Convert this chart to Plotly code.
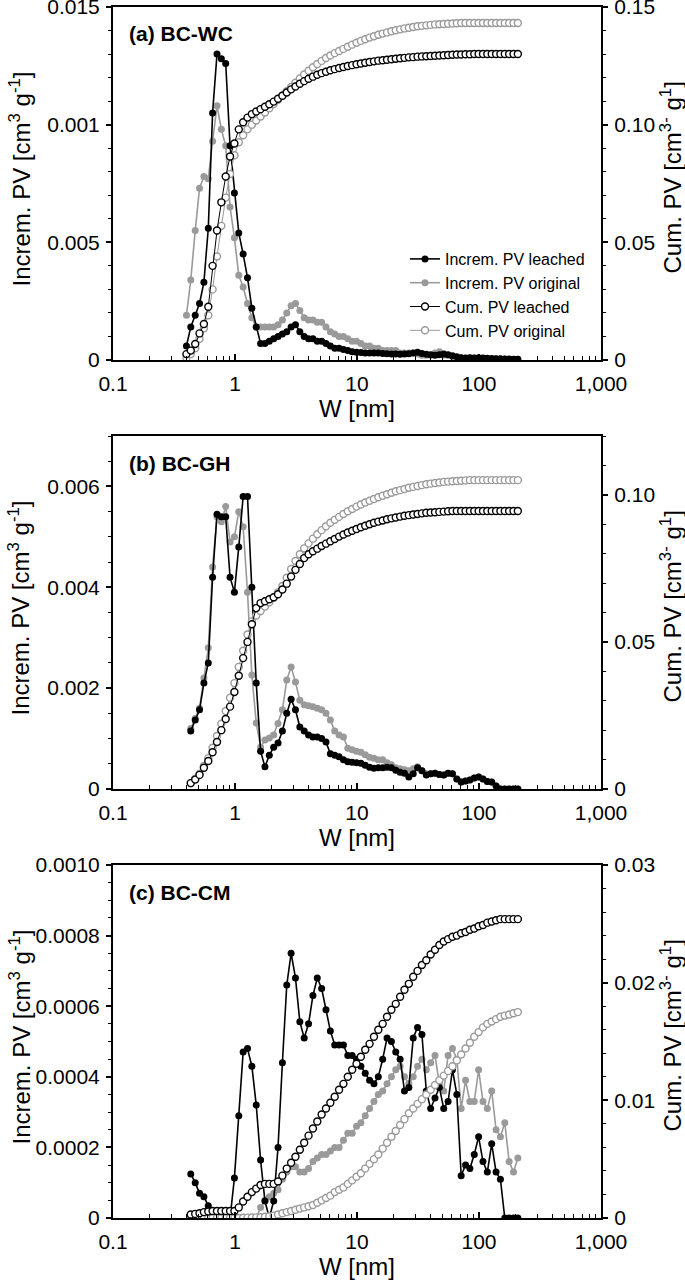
import plotly.graph_objects as go

# ---------------- data ----------------
W = [0.400, 0.434, 0.472, 0.512, 0.556, 0.604, 0.655, 0.712, 0.773, 0.839,
     0.911, 0.989, 1.074, 1.166, 1.266, 1.375, 1.493, 1.621, 1.760, 1.911,
     2.075, 2.253, 2.446, 2.656, 2.884, 3.131, 3.400, 3.691, 4.008, 4.352,
     4.725, 5.130, 5.570, 6.048, 6.567, 7.130, 7.742, 8.406, 9.127, 9.910,
     10.76, 11.68, 12.68, 13.77, 14.95, 16.24, 17.63, 19.14, 20.78, 22.57,
     24.50, 26.60, 28.89, 31.36, 34.05, 36.98, 40.15, 43.59, 47.33, 51.39,
     55.80, 60.59, 65.79, 71.43, 77.56, 84.21, 91.44, 99.28, 107.8, 117.0,
     127.1, 138.0, 149.8, 162.7, 176.6, 191.8, 208.2]
W_bc = W[1:]

# (a) BC-WC
a_inc_leached = [
    0.0006, 0.0014, 0.0019, 0.0024, 0.0033, 0.0056, 0.0105, 0.0130, 0.0128, 0.0126,
    0.0091, 0.0071, 0.0054, 0.0045, 0.0035, 0.0022, 0.0014, 0.0007, 0.0007, 0.0008,
    0.0009, 0.0010, 0.0011, 0.0012, 0.0014, 0.0015, 0.0012, 0.0010, 0.0009, 0.0009,
    0.0008, 0.0008, 0.0007, 0.0006, 0.0005, 0.0005, 0.00045, 0.0004, 0.00035, 0.00033,
    0.00032, 0.0003, 0.0003, 0.0003, 0.0003, 0.00028, 0.00027, 0.00026, 0.00025, 0.00024,
    0.00025, 0.00027, 0.0003, 0.00033, 0.00028, 0.00024, 0.00022, 0.0002, 0.00022, 0.00025,
    0.00022, 0.00018, 0.00014, 0.0001, 0.00008, 0.0001, 0.00009, 0.0001, 0.00008, 0.00007,
    0.00006, 0.00005, 0.00005, 0.00004, 0.00004, 0.00003, 0.00003]
a_inc_original = [
    0.0019, 0.0034, 0.0055, 0.0073, 0.0078, 0.0077, 0.0093, 0.0108, 0.0098, 0.0091,
    0.0065, 0.0052, 0.0036, 0.0031, 0.0024, 0.0018, 0.0014, 0.0014, 0.0014, 0.0014,
    0.0014, 0.0015, 0.0017, 0.0020, 0.0023, 0.0024, 0.0021, 0.0018, 0.0017, 0.0017,
    0.0016, 0.0016, 0.0014, 0.0012, 0.0011, 0.0010, 0.0010, 0.0009, 0.0008, 0.0008,
    0.0007, 0.0006, 0.0006, 0.0005, 0.0005, 0.0004, 0.0004, 0.0004, 0.0004, 0.0003,
    0.0003, 0.0003, 0.0003, 0.00025, 0.0002, 0.0002, 0.0002, 0.0003, 0.00035, 0.0002,
    0.0002, 0.00015, 0.0001, 0.0001, 0.00009, 0.00008, 0.00008, 0.00007, 0.00006, 0.00006,
    0.00005, 0.00005, 0.00004, 0.00004, 0.00003, 0.00003, 0.00003]
a_cum_leached = [
    0.0025, 0.004, 0.0068, 0.0113, 0.0153, 0.0226, 0.040, 0.055, 0.067, 0.078,
    0.0865, 0.092, 0.098, 0.101, 0.103, 0.1045, 0.1056, 0.1066, 0.1076, 0.1087,
    0.1098, 0.111, 0.1123, 0.1137, 0.115, 0.1162, 0.1174, 0.1185, 0.1195, 0.1204,
    0.1212, 0.1219, 0.1225, 0.1231, 0.1236, 0.1241, 0.1245, 0.1249, 0.1253, 0.1257,
    0.126, 0.1263, 0.1266, 0.1269, 0.1272, 0.1274, 0.1276, 0.1278, 0.128, 0.1282,
    0.1284, 0.1286, 0.1287, 0.1289, 0.129, 0.1291, 0.1292, 0.1293, 0.1294, 0.1295,
    0.1296, 0.1297, 0.1298, 0.1298, 0.1299, 0.1299, 0.13, 0.13, 0.13, 0.13,
    0.13, 0.13, 0.13, 0.13, 0.13, 0.13, 0.13]
a_cum_original = [
    0.001, 0.0025, 0.005, 0.009, 0.0135, 0.019, 0.030, 0.044, 0.057, 0.069,
    0.079, 0.087, 0.0925, 0.0955, 0.098, 0.100, 0.1018, 0.1035, 0.1052, 0.107,
    0.1088, 0.1106, 0.1124, 0.1142, 0.116, 0.1178, 0.1196, 0.1213, 0.1229, 0.1244,
    0.1258, 0.1271, 0.1283, 0.1294, 0.1304, 0.1313, 0.1322, 0.1331, 0.134, 0.1348,
    0.1356, 0.1363, 0.137, 0.1376, 0.1382, 0.1387, 0.1392, 0.1397, 0.1401, 0.1405,
    0.1409, 0.1412, 0.1415, 0.1418, 0.142, 0.1422, 0.1424, 0.1426, 0.1427, 0.1428,
    0.1429, 0.143, 0.1431, 0.1432, 0.1432, 0.1432, 0.1432, 0.1432, 0.1432, 0.1432,
    0.1432, 0.1432, 0.1432, 0.1432, 0.1432, 0.1432, 0.1432]

# (b) BC-GH
b_inc_leached = [
    0.00115, 0.00137, 0.00157, 0.0021, 0.0025, 0.0042, 0.00545, 0.0054, 0.0054, 0.0042,
    0.0039, 0.0048, 0.0058, 0.0058, 0.0040, 0.0021, 0.00075, 0.00044, 0.00067, 0.00083,
    0.00091, 0.00115, 0.0015, 0.00178, 0.00157, 0.00123, 0.00115, 0.00107, 0.00103, 0.00103,
    0.0010, 0.00093, 0.0007, 0.00067, 0.00064, 0.00058, 0.00054, 0.00053, 0.00052, 0.00051,
    0.00047, 0.00043, 0.00041, 0.00042, 0.00042, 0.00043, 0.00042, 0.00037, 0.00033, 0.00031,
    0.00024, 0.0003, 0.00042, 0.00036, 0.00028, 0.0003, 0.00031, 0.00029, 0.00028, 0.00031,
    0.0003, 0.0002, 0.00014, 0.00016, 0.00018, 0.00022, 0.00024, 0.0002, 0.00015, 0.00014,
    0.00006, 0.0, 0.0, 0.0, 0.0, 0.0]
b_inc_original = [
    0.0012, 0.0014, 0.0016, 0.0022, 0.0028, 0.0044, 0.0054, 0.0053, 0.0056, 0.0049,
    0.0050, 0.0055, 0.0052, 0.0039, 0.00226, 0.00131, 0.00083, 0.00097, 0.00101, 0.00107,
    0.0013, 0.00157, 0.00216, 0.00242, 0.00212, 0.00176, 0.00167, 0.00165, 0.00163, 0.0016,
    0.00157, 0.0015, 0.00137, 0.00115, 0.00107, 0.00103, 0.00081, 0.00078, 0.00075, 0.00073,
    0.00068, 0.00063, 0.00061, 0.00058, 0.00058, 0.00052, 0.00048, 0.00042, 0.0004, 0.00038,
    0.00036, 0.0004, 0.00044, 0.00036, 0.0003, 0.0003, 0.00031, 0.00029, 0.00028, 0.00031,
    0.0003, 0.0002, 0.00014, 0.00016, 0.00018, 0.00022, 0.00024, 0.0002, 0.00015, 0.00014,
    0.00006, 0.0, 0.0, 0.0, 0.0, 0.0]
b_cum_leached = [
    0.002, 0.0032, 0.0048, 0.0072, 0.0095, 0.0125, 0.016, 0.020, 0.0238, 0.028,
    0.033, 0.0385, 0.0445, 0.050, 0.056, 0.0615, 0.0632, 0.0638, 0.0645, 0.0652,
    0.0662, 0.0678, 0.0698, 0.0722, 0.0745, 0.0765, 0.0785, 0.0798, 0.0808, 0.0817,
    0.0826, 0.0834, 0.0842, 0.085, 0.0858, 0.0865, 0.0872, 0.0878, 0.0884, 0.089,
    0.0895, 0.09, 0.0905, 0.0909, 0.0913, 0.0917, 0.092, 0.0923, 0.0926, 0.0929,
    0.0931, 0.0933, 0.0935, 0.0937, 0.0939, 0.094, 0.0941, 0.0942, 0.0943, 0.0944,
    0.0945, 0.0945, 0.0945, 0.0945, 0.0945, 0.0945, 0.0945, 0.0945, 0.0945, 0.0945,
    0.0945, 0.0945, 0.0945, 0.0945, 0.0945, 0.0945]
b_cum_original = [
    0.002, 0.0035, 0.0052, 0.0078, 0.0105, 0.014, 0.018, 0.0222, 0.0265, 0.031,
    0.036, 0.0415, 0.047, 0.0525, 0.057, 0.059, 0.0605, 0.062, 0.0635, 0.065,
    0.0668, 0.069, 0.0718, 0.0748, 0.0775, 0.0798, 0.0818, 0.0835, 0.0851, 0.0866,
    0.088, 0.0893, 0.0905, 0.0915, 0.0925, 0.0935, 0.0944, 0.0952, 0.096, 0.0967,
    0.0974, 0.098, 0.0986, 0.0992, 0.0997, 0.1002, 0.1007, 0.1012, 0.1016, 0.102,
    0.1024, 0.1027, 0.103, 0.1033, 0.1036, 0.1038, 0.104, 0.1042, 0.1044, 0.1045,
    0.1046, 0.1047, 0.1048, 0.1049, 0.105, 0.105, 0.105, 0.105, 0.105, 0.105,
    0.105, 0.105, 0.105, 0.105, 0.105, 0.105]

# (c) BC-CM
c_inc_leached = [
    0.000125, 0.0001, 0.00007, 0.00006, 0.000035, 0.0, 0.0, 0.0, 0.0, 0.0,
    0.000113, 0.00029, 0.00047, 0.00048, 0.00043, 0.00032, 0.000164, 0.000048, 0.0, 0.000048,
    0.0002, 0.00044, 0.00066, 0.00075, 0.00068, 0.000556, 0.00051, 0.00055, 0.00063, 0.00068,
    0.00065, 0.00059, 0.00053, 0.00049, 0.00049, 0.00049, 0.00046, 0.00046, 0.00045, 0.00043,
    0.00041, 0.00039, 0.00038, 0.0004, 0.00045, 0.00051, 0.0005, 0.00047, 0.00045, 0.00036,
    0.00037, 0.00051, 0.00054, 0.00052, 0.00036, 0.00031, 0.00034, 0.00037, 0.00031, 0.00033,
    0.00042, 0.00035, 0.00012, 0.00015, 0.00014, 0.00018, 0.00023, 0.00016, 0.00013, 0.00021,
    0.00013, 0.00011, 0.0, 0.0, 0.0, 0.0]
c_inc_original = [
    0.0, 0.0, 0.0, 0.0, 0.0, 0.0, 0.0, 0.0, 0.0, 0.0,
    0.0, 0.0, 0.0, 0.0, 0.0, 0.0, 0.00003, 0.00005, 0.00006, 0.00007,
    0.00008, 0.00011, 0.00013, 0.000145, 0.000145, 0.00013, 0.00013, 0.00014, 0.00016, 0.00017,
    0.00018, 0.00018, 0.00019, 0.0002, 0.0002, 0.00022, 0.00024, 0.00024, 0.00026, 0.00027,
    0.00029, 0.00031, 0.00033, 0.00035, 0.00036, 0.00038, 0.0004, 0.00042, 0.00043, 0.0004,
    0.00038, 0.0004, 0.00043, 0.00045, 0.00042, 0.00044, 0.00046, 0.00038, 0.00036, 0.00046,
    0.00048, 0.00045, 0.00031, 0.00039, 0.00033, 0.00033, 0.00042, 0.00033, 0.00031, 0.00036,
    0.00025, 0.00023, 0.00027, 0.00016, 0.00013, 0.00017]
c_cum_leached = [
    0.0003, 0.00035, 0.0004, 0.0005, 0.00055, 0.0006, 0.0006, 0.0006, 0.0006, 0.0006,
    0.0006, 0.0009, 0.0014, 0.0018, 0.0022, 0.0025, 0.0028, 0.0029, 0.0029, 0.0029,
    0.0031, 0.0036, 0.0042, 0.0047, 0.0052, 0.0058, 0.0064, 0.007, 0.0076, 0.0082,
    0.0088, 0.0093, 0.0098, 0.0103, 0.0109, 0.0114, 0.012, 0.0126, 0.0131, 0.0137,
    0.0143, 0.0148, 0.0154, 0.016, 0.0165, 0.0171, 0.0177, 0.0182, 0.0188, 0.0194,
    0.0199, 0.0205, 0.021, 0.0215, 0.0219, 0.0224, 0.0228, 0.0232, 0.0235, 0.0237,
    0.0239, 0.024, 0.0242, 0.0243, 0.0245, 0.0246, 0.0248, 0.0249, 0.0251, 0.0252,
    0.0253, 0.0254, 0.0254, 0.0254, 0.0254, 0.0254]
c_cum_original = [
    0.0, 0.0, 0.0, 0.0, 0.0, 0.0, 0.0, 0.0, 0.0, 0.0,
    0.0, 0.0, 0.00002, 0.00003, 0.00004, 0.00005, 0.00007, 0.0001, 0.00015, 0.0002,
    0.0003, 0.0004, 0.0005, 0.0006, 0.0007, 0.0008, 0.0009, 0.001, 0.0011, 0.0013,
    0.0015, 0.0017, 0.0019, 0.0022, 0.0024, 0.0026, 0.0029, 0.0032, 0.0035, 0.0038,
    0.0042, 0.0046, 0.005, 0.0054, 0.0059, 0.0064, 0.0069, 0.0074, 0.0079, 0.0084,
    0.0089, 0.0093, 0.0097, 0.0101, 0.0105, 0.0109, 0.0113, 0.0117, 0.0121, 0.0125,
    0.0129, 0.0134, 0.0139, 0.0144, 0.0149, 0.0154, 0.0158, 0.0162, 0.0165, 0.0167,
    0.0169, 0.0171, 0.0172, 0.0173, 0.0174, 0.0175]

x_tickvals = [0.1, 1, 10, 100, 1000]
x_ticktext = ["0.1", "1", "10", "100", "1,000"]

panel_labels = ["(a) BC-WC", "(b) BC-GH", "(c) BC-CM"]
left_title = "Increm. PV [cm<sup>3</sup> g<sup>-1</sup>]"
right_title = "Cum. PV [cm<sup>3-</sup> g<sup>1</sup>]"
left_ticks = [
    ([0, 0.005, 0.010, 0.015], ["0", "0.005", "0.001", "0.015"]),
    ([0, 0.002, 0.004, 0.006], ["0", "0.002", "0.004", "0.006"]),
    ([0, 0.0002, 0.0004, 0.0006, 0.0008, 0.0010],
     ["0", "0.0002", "0.0004", "0.0006", "0.0008", "0.0010"]),
]
right_ticks = [
    ([0, 0.05, 0.10, 0.15], ["0", "0.05", "0.10", "0.15"]),
    ([0, 0.05, 0.10], ["0", "0.05", "0.10"]),
    ([0, 0.01, 0.02, 0.03], ["0", "0.01", "0.02", "0.03"]),
]
left_range = [0.015, 0.007, 0.001]
right_range = [0.15, 0.12, 0.03]
left_minor = [0.001, 0.0005, 0.00005]
right_minor = [0.01, 0.01, 0.002]

# ---------------- styling ----------------
BLACK = "#000000"
GRAY = "#9a9a9a"
FONT = "Liberation Sans, Arial, Helvetica, sans-serif"
W_PX, H_PX = 685, 1284
X_DOM = [113 / W_PX, 601 / W_PX]
Y_PIX = [(7, 360), (436, 789), (865, 1218)]  # top, bottom in px

series = [
    (W, a_inc_leached, a_inc_original, a_cum_leached, a_cum_original),
    (W_bc, b_inc_leached, b_inc_original, b_cum_leached, b_cum_original),
    (W_bc, c_inc_leached, c_inc_original, c_cum_leached, c_cum_original),
]

fig = go.Figure()
minor_x = [d * k for d in (0.1, 1, 10, 100) for k in range(2, 10)]

for p, (w, il, io, cl, co) in enumerate(series):
    xa = "x" if p == 0 else f"x{p + 1}"
    yl = "y" if p == 0 else f"y{2 * p + 1}"
    yr = f"y{2 * p + 2}"
    show = p == 0
    fig.add_trace(go.Scatter(
        x=w, y=io, xaxis=xa, yaxis=yl, mode="lines+markers",
        name="Increm. PV original", legendrank=2, showlegend=show,
        line=dict(color=GRAY, width=1.6),
        marker=dict(color=GRAY, size=7, symbol="circle")))
    fig.add_trace(go.Scatter(
        x=w, y=il, xaxis=xa, yaxis=yl, mode="lines+markers",
        name="Increm. PV leached", legendrank=1, showlegend=show,
        line=dict(color=BLACK, width=1.6),
        marker=dict(color=BLACK, size=7, symbol="circle")))
    fig.add_trace(go.Scatter(
        x=w, y=co, xaxis=xa, yaxis=yr, mode="lines+markers",
        name="Cum. PV original", legendrank=4, showlegend=show,
        line=dict(color=GRAY, width=1),
        marker=dict(color="white", size=7, symbol="circle",
                    line=dict(color=GRAY, width=1.4))))
    fig.add_trace(go.Scatter(
        x=w, y=cl, xaxis=xa, yaxis=yr, mode="lines+markers",
        name="Cum. PV leached", legendrank=3, showlegend=show,
        line=dict(color=BLACK, width=1),
        marker=dict(color="white", size=7, symbol="circle",
                    line=dict(color=BLACK, width=1.4))))

layout = dict(
    width=W_PX, height=H_PX,
    margin=dict(l=0, r=0, t=0, b=0, autoexpand=False),
    paper_bgcolor="white", plot_bgcolor="white",
    font=dict(family=FONT, size=21, color=BLACK),
    showlegend=True,
    legend=dict(x=405 / W_PX, y=1 - 242 / H_PX, xanchor="left", yanchor="top",
                bgcolor="rgba(0,0,0,0)", font=dict(size=16, family=FONT),
                itemwidth=30, tracegroupgap=0),
    annotations=[],
)

for p in range(3):
    top, bot = Y_PIX[p]
    ydom = [1 - bot / H_PX, 1 - top / H_PX]
    xkey = "xaxis" if p == 0 else f"xaxis{p + 1}"
    ylkey = "yaxis" if p == 0 else f"yaxis{2 * p + 1}"
    yrkey = f"yaxis{2 * p + 2}"
    yl = "y" if p == 0 else f"y{2 * p + 1}"
    xa = "x" if p == 0 else f"x{p + 1}"
    layout[xkey] = dict(
        domain=X_DOM, anchor=yl, type="log", range=[-1, 3], automargin=False,
        tickmode="array", tickvals=x_tickvals, ticktext=x_ticktext,
        ticks="inside", ticklen=6, tickwidth=1.5, tickcolor=BLACK,
        minor=dict(tickvals=minor_x, ticks="inside", ticklen=4, tickwidth=1.2, tickcolor=BLACK),
        showline=True, linecolor=BLACK, linewidth=2, mirror=True,
        showgrid=False, zeroline=False, ticklabeloverflow="allow",
        tickfont=dict(size=21), ticklabelstandoff=4,
        title=dict(text="W [nm]", font=dict(size=24), standoff=2),
    )
    tv, tt = left_ticks[p]
    layout[ylkey] = dict(
        domain=ydom, anchor=xa, range=[0, left_range[p]], automargin=False,
        tickmode="array", tickvals=tv, ticktext=tt,
        ticks="outside", ticklen=5, tickwidth=1.5, tickcolor=BLACK,
        minor=dict(tick0=0, dtick=left_minor[p], ticks="outside", ticklen=3,
                   tickwidth=1.2, tickcolor=BLACK),
        showline=True, linecolor=BLACK, linewidth=2, ticklabeloverflow="allow",
        showgrid=False, zeroline=False, tickfont=dict(size=21), ticklabelstandoff=2,
    )
    tv, tt = right_ticks[p]
    layout[yrkey] = dict(
        overlaying=yl, side="right", anchor=xa, range=[0, right_range[p]], automargin=False,
        tickmode="array", tickvals=tv, ticktext=tt,
        ticks="outside", ticklen=5, tickwidth=1.5, tickcolor=BLACK,
        minor=dict(tick0=0, dtick=right_minor[p], ticks="outside", ticklen=3,
                   tickwidth=1.2, tickcolor=BLACK),
        showline=True, linecolor=BLACK, linewidth=2, ticklabeloverflow="allow",
        showgrid=False, zeroline=False, tickfont=dict(size=21), ticklabelstandoff=2,
    )
    mid = 1 - ((top + bot) / 2) / H_PX
    layout["annotations"].append(dict(
        text=left_title, xref="paper", yref="paper", textangle=-90,
        x=19 / W_PX, y=mid + 4 / H_PX, xanchor="center", yanchor="middle",
        showarrow=False, font=dict(size=24, family=FONT, color=BLACK)))
    layout["annotations"].append(dict(
        text=right_title, xref="paper", yref="paper", textangle=-90,
        x=670 / W_PX, y=mid + 6 / H_PX, xanchor="center", yanchor="middle",
        showarrow=False, font=dict(size=24, family=FONT, color=BLACK)))
    layout["annotations"].append(dict(
        text=f"<b>{panel_labels[p]}</b>", xref="paper", yref="paper",
        x=127 / W_PX, y=1 - (top + 27) / H_PX, xanchor="left", yanchor="middle",
        showarrow=False, font=dict(size=21, family=FONT, color=BLACK)))

fig.update_layout(**layout)
fig.write_html("out.html", config={"displayModeBar": False},
               post_script="document.body.style.margin='0px';document.body.style.overflow='hidden';")
